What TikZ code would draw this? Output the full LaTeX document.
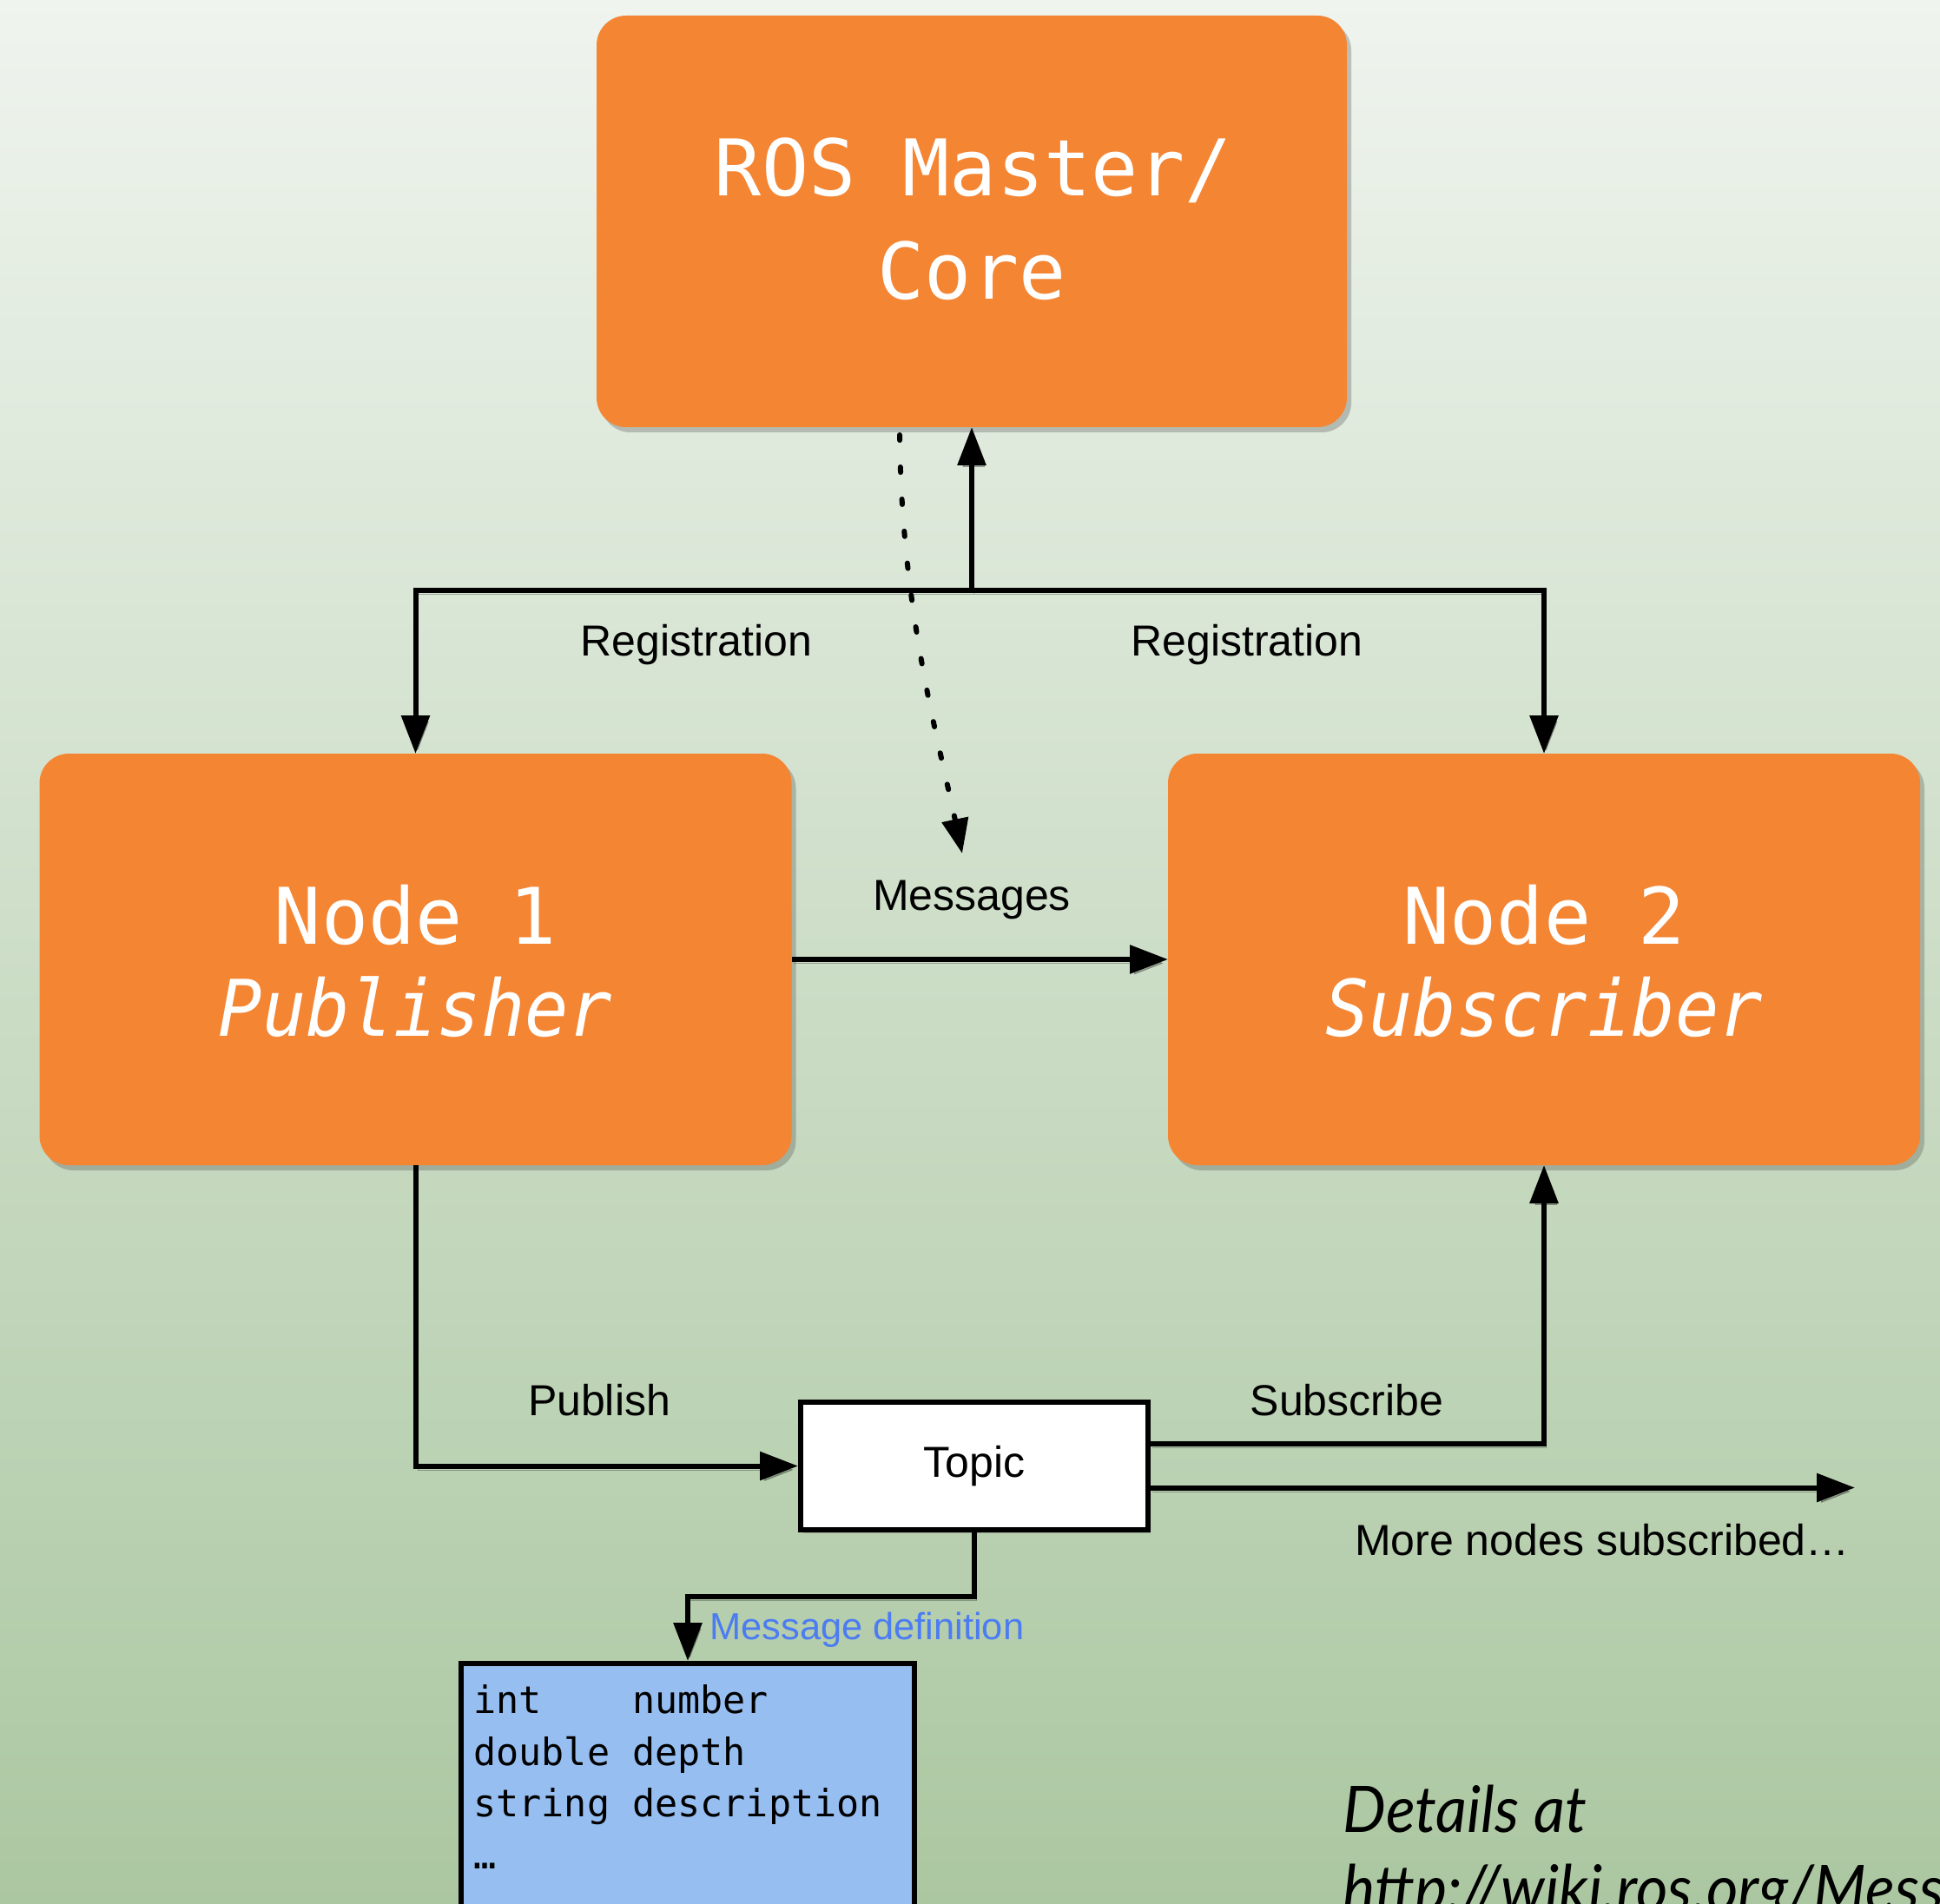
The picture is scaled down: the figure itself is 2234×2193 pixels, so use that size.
\documentclass[tikz,border=0pt]{standalone}
\usepackage{fontspec}
\setmainfont{Liberation Sans}
\newfontfamily\monofont{DejaVu Sans Mono}
\newfontfamily\detfont{Lato}
\usetikzlibrary{arrows.meta,shadows,calc}
\definecolor{rosorange}{HTML}{F48533}
\definecolor{bgtop}{HTML}{EFF4EE}
\definecolor{bgbot}{HTML}{ABC7A1}
\definecolor{msgblue}{HTML}{96BEF0}
\definecolor{deflabel}{HTML}{4C7CF2}
\begin{document}
\begin{tikzpicture}[x=0.5pt,y=-0.5pt,
  box/.style={rectangle, rounded corners=17pt, fill=rosorange, minimum width=433pt,
    minimum height=237pt, inner sep=0pt, outer sep=0pt,
    drop shadow={shadow xshift=2.5pt, shadow yshift=-3pt, opacity=0.3, fill=black!70}},
  boxtxt/.style={text=white, inner sep=0pt, anchor=base,
    font=\monofont\fontsize{45pt}{54pt}\selectfont},
  boxtxtit/.style={boxtxt, font=\monofont\itshape\fontsize{45pt}{54pt}\selectfont},
  lbl/.style={inner sep=0pt, anchor=base, font=\fontsize{25pt}{30pt}\selectfont},
  monotxt/.style={inner sep=0pt, anchor=base west, font=\monofont\fontsize{21.7pt}{26pt}\selectfont},
  dettxt/.style={inner sep=0pt, anchor=base west, font=\detfont\itshape\fontsize{37pt}{45pt}\selectfont},
  lshadow/.style={preaction={draw=black, opacity=0.28, transform canvas={xshift=1.2pt,yshift=-2.2pt}}},
  conn/.style={line width=3pt, draw=black, lshadow},
  arr/.style={conn, -{Triangle[length=22pt,width=16pt]}},
  dotarr/.style={line width=3pt, draw=black, line cap=round, dash pattern=on 3pt off 15.5pt,
    -{Triangle[length=20pt,width=15pt]}}
]
\useasboundingbox (0,0) rectangle (2234,2193);
\clip (0,0) rectangle (2234,2193);
\fill[top color=bgtop, bottom color=bgbot] (0,0) rectangle (2234,2193);

% main boxes
\node[box, minimum width=432pt] (master) at (1119,255) {};
\node[box] (node1) at (478.5,1105) {};
\node[box] (node2) at (1778,1105) {};

\node[boxtxt] (mt1) at (1121,226) {ROS Master/};
\node[boxtxt] (mt2) at (1119,345) {Core};
\node[boxtxt] (n1a) at (478.5,1087) {Node 1};
\node[boxtxtit] (n1b) at (478.5,1193) {\scalebox{0.93}[1]{Publisher}};
\node[boxtxt] (n2a) at (1778,1087) {Node 2};
\node[boxtxtit] (n2b) at (1778,1193) {\scalebox{0.93}[1]{Subscriber}};

% topic and message definition
\node[draw, line width=3pt, fill=white, minimum width=200pt, minimum height=73.5pt,
  inner sep=0pt, font=\fontsize{25pt}{30pt}\selectfont,
  drop shadow={shadow xshift=1.5pt, shadow yshift=-2pt, opacity=0.25, fill=black!70}]
  (topic) at (1122,1688.5) {\raisebox{-1.5pt}{Topic}};
\node[draw, line width=3pt, fill=msgblue, minimum width=261pt, minimum height=157pt,
  inner sep=0pt] (msgbox) at (792,2073) {};

% connectors
\coordinate (bus) at (1119,680);
\draw[arr] (bus) -- (master.south);
\draw[arr] (bus) -| (node1.north);
\draw[arr] (bus) -| (node2.north);
\draw[arr] (node1.east) -- (node2.west);
\draw[arr] (node1.south) |- (topic.west);
\draw[arr] ([yshift=12.75pt]topic.east) -| (node2.south);
\coordinate (more) at (2136,1713.5);
\draw[arr] ([yshift=-12.5pt]topic.east) -- (more);
\draw[arr] (topic.south) -- ++(0,74) -| (msgbox.north);

\coordinate (dotA) at (1036,501);
\coordinate (dotB) at (1108,983);
\draw[dotarr] (dotA) .. controls (1038,700) and (1080,850) .. (dotB);

% labels
\node[lbl] (reg1) at (802,755) {Registration};
\node[lbl] (reg2) at (1436,755) {Registration};
\node[lbl] (msgs) at (1119,1048) {Messages};
\node[lbl] (pub) at (690,1630) {Publish};
\node[lbl] (sub) at (1551,1630) {Subscribe};
\node[lbl] (morelbl) at (1845,1791) {More nodes subscribed…};
\node[inner sep=0pt, anchor=base west, text=deflabel, font=\fontsize{21.7pt}{26pt}\selectfont]
  (mdef) at (817,1888) {Message definition};

% message definition lines
\node[monotxt] (ml1) at (545,1973) {int\phantom{xxxx}number};
\node[monotxt] (ml2) at (545,2033) {double\phantom{x}depth};
\node[monotxt] (ml3) at (545,2092) {string\phantom{x}description};
\node[monotxt] (ml4) at (545,2152) {…};

% details
\node[dettxt] (det1) at (1546,2110) {\scalebox{0.95}[1]{Details at}};
\node[dettxt] (det2) at (1546,2201) {\scalebox{0.95}[1]{http://wiki.ros.org/Messages}};
\end{tikzpicture}
\end{document}
